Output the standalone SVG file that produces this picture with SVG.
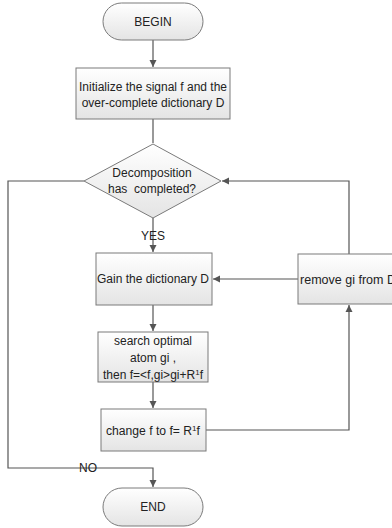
<svg xmlns="http://www.w3.org/2000/svg" width="392" height="528" viewBox="0 0 392 528">
  <defs>
    <linearGradient id="boxFill" x1="0" y1="0" x2="0" y2="1">
      <stop offset="0" stop-color="#ffffff"/>
      <stop offset="1" stop-color="#e4e4e4"/>
    </linearGradient>
    <marker id="arrow" markerWidth="8" markerHeight="8" refX="7" refY="4" orient="auto" markerUnits="userSpaceOnUse">
      <path d="M0,0.5 L7,4 L0,7.5 Z" fill="#555"/>
    </marker>
    <style>
      .shape { fill: url(#boxFill); stroke: #7a7a7a; stroke-width: 1; }
      .conn { fill: none; stroke: #555; stroke-width: 1.2; }
      .lbl { font-family: "Liberation Sans", Arial, sans-serif; font-size: 12px; fill: #222; text-anchor: middle; }
      .cal { font-family: "Liberation Sans", Arial, sans-serif; font-size: 12px; fill: #222; text-anchor: middle; }
    </style>
  </defs>

  <!-- connectors -->
  <g id="connectors">
    <line class="conn" x1="153" y1="40" x2="153" y2="67" marker-end="url(#arrow)"/>
    <line class="conn" x1="153" y1="119" x2="153" y2="143" />
    <line class="conn" x1="153" y1="218" x2="153" y2="252" marker-end="url(#arrow)"/>
    <line class="conn" x1="153" y1="305" x2="153" y2="331" marker-end="url(#arrow)"/>
    <line class="conn" x1="153" y1="382" x2="153" y2="408" marker-end="url(#arrow)"/>
    <polyline class="conn" points="206,430 349,430 349,305" marker-end="url(#arrow)"/>
    <line class="conn" x1="298" y1="279" x2="213" y2="279" marker-end="url(#arrow)"/>
    <polyline class="conn" points="349,254 349,181 222,181" marker-end="url(#arrow)"/>
    <polyline class="conn" points="84,181 8,181 8,468 153,468 153,487" marker-end="url(#arrow)"/>
    <text class="lbl" x="153" y="240">YES</text>
    <text class="lbl" x="88" y="472">NO</text>
  </g>

  <g id="begin">
    <rect class="shape" x="103" y="3" width="100" height="37" rx="18.5" ry="18.5"/>
    <text class="lbl" x="153" y="26">BEGIN</text>
  </g>

  <g id="init">
    <rect class="shape" x="76" y="68" width="154" height="51"/>
    <text class="lbl" x="153" y="91" textLength="148" lengthAdjust="spacingAndGlyphs">Initialize the signal f and the</text>
    <text class="lbl" x="153" y="107">over-complete dictionary D</text>
  </g>

  <g id="decision">
    <polygon class="shape" points="153,144 221,181 153,218 84,181"/>
    <text class="lbl" x="152" y="177">Decomposition</text>
    <text class="lbl" x="152" y="193" xml:space="preserve">has  completed?</text>
  </g>

  <g id="gain">
    <rect class="shape" x="96" y="253" width="116" height="52"/>
    <text class="lbl" x="153" y="283">Gain the dictionary D</text>
  </g>

  <g id="remove">
    <rect class="shape" x="298" y="254" width="100" height="50"/>
    <text class="cal" x="300" y="284" style="text-anchor:start" textLength="96" lengthAdjust="spacingAndGlyphs">remove gi from D</text>
  </g>

  <g id="search">
    <rect class="shape" x="98" y="332" width="110" height="50"/>
    <text class="lbl" x="153" y="345">search optimal</text>
    <text class="lbl" x="153" y="362">atom gi ,</text>
    <text class="cal" x="153" y="379" textLength="100" lengthAdjust="spacingAndGlyphs">then f=&lt;f,gi&gt;gi+R<tspan font-size="8" dy="-4">1</tspan><tspan dy="4">f</tspan></text>
  </g>

  <g id="change">
    <rect class="shape" x="101" y="409" width="105" height="42"/>
    <text class="cal" x="153" y="435" textLength="94" lengthAdjust="spacingAndGlyphs">change f to f= R<tspan font-size="8" dy="-4">1</tspan><tspan dy="4">f</tspan></text>
  </g>

  <g id="end">
    <rect class="shape" x="103" y="488" width="100" height="38" rx="19" ry="19"/>
    <text class="lbl" x="153" y="511">END</text>
  </g>
</svg>
